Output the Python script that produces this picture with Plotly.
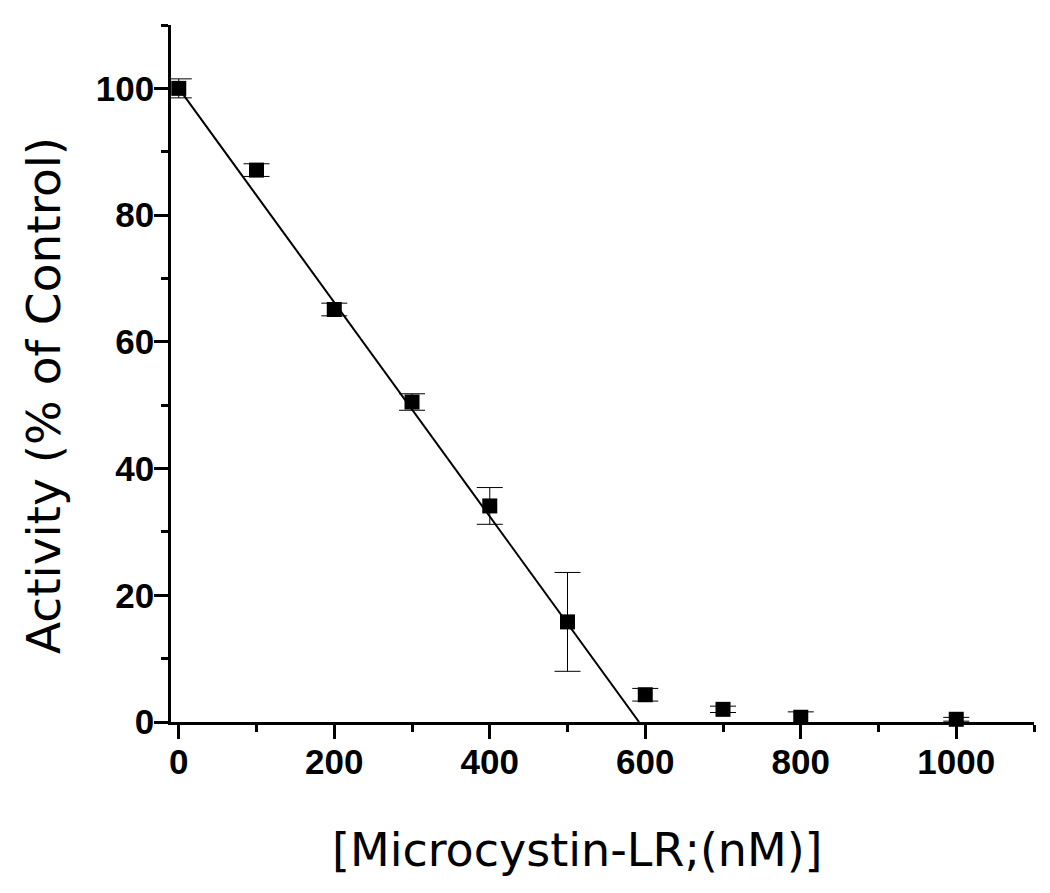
import plotly.graph_objects as go

# Microcystin-LR concentration (nM) and activity (% of control)
conc = [0, 100, 200, 300, 400, 500, 600, 700, 800, 1000]
activity = [100, 87.1, 65.1, 50.5, 34.1, 15.8, 4.3, 2.0, 0.75, 0.43]
activity_err = [1.5, 1.0, 1.0, 1.3, 2.9, 7.8, 1.0, 0.5, 0.85, 0.3]

# linear fit line
fit_x = [0, 592]
fit_y = [100, 0]

x_ticks = [0, 200, 400, 600, 800, 1000]
y_ticks = [0, 20, 40, 60, 80, 100]

x_title = "[Microcystin-LR;(nM)]"
y_title = "Activity (% of Control)"

TICK_FONT = "Liberation Sans, Arial, sans-serif"
TITLE_FONT = "DejaVu Sans, sans-serif"

fig = go.Figure()

fig.add_trace(go.Scatter(
    x=fit_x, y=fit_y, mode="lines",
    line=dict(color="black", width=2),
    showlegend=False, cliponaxis=False,
))

fig.add_trace(go.Scatter(
    x=conc, y=activity, mode="markers",
    marker=dict(symbol="square", size=15, color="black"),
    error_y=dict(type="data", array=activity_err, color="black", thickness=1, width=13),
    showlegend=False, cliponaxis=False,
))

axis_common = dict(
    showline=True, linecolor="black", linewidth=2.5,
    ticks="outside", ticklen=14, tickwidth=2.5, tickcolor="black",
    showgrid=False, zeroline=False, automargin=False,
    ticklabelstandoff=-7,
    tickfont=dict(family=TICK_FONT, size=35, color="black", weight="bold"),
)

fig.update_xaxes(
    range=[-10, 1100], tickvals=x_ticks,
    minor=dict(dtick=100, tick0=0, ticks="outside", ticklen=7, tickwidth=2.5, tickcolor="black"),
    **axis_common,
)
fig.update_yaxes(
    range=[0, 110], tickvals=y_ticks,
    minor=dict(dtick=10, tick0=0, ticks="outside", ticklen=7, tickwidth=2.5, tickcolor="black"),
    **axis_common,
)

# axis titles as annotations, placed to match the original figure
fig.add_annotation(
    text=x_title, xref="paper", yref="paper", x=0.4716, y=0,
    xanchor="center", yanchor="middle", yshift=-128, showarrow=False,
    font=dict(family=TITLE_FONT, size=46, color="black"),
)
fig.add_annotation(
    text=y_title, xref="paper", yref="paper", x=0, y=0.4677,
    xanchor="center", yanchor="middle", xshift=-128, textangle=-90, showarrow=False,
    font=dict(family=TITLE_FONT, size=47, color="black"),
)

# the page body adds an 8px offset, so the figure is drawn 8px smaller
fig.update_layout(
    width=1042, height=885,
    margin=dict(l=163, r=16, t=17, b=171),
    plot_bgcolor="white", paper_bgcolor="white",
)

fig.write_html("out.html")
